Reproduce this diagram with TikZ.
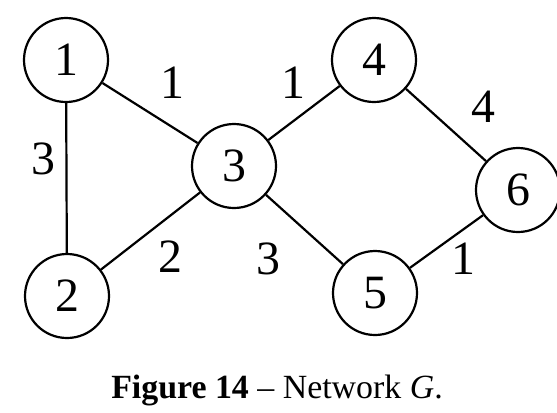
\documentclass[tikz,border=0pt]{standalone}
\usepackage{fontspec}
\setmainfont{Liberation Serif}

\tikzset{
  vertex/.style={draw, circle, line width=2.2bp, minimum size=84bp, inner sep=0pt, font=\fontsize{48}{48}\selectfont},
  weight/.style={font=\fontsize{48}{48}\selectfont, inner sep=0pt},
  link/.style={line width=2.2bp}
}

\begin{document}
\begin{tikzpicture}[x=1bp, y=-1bp]
        \useasboundingbox (0,0) rectangle (557,412);
        \node[vertex] (V1) at (66,60) {1};
        \node[vertex] (V2) at (67,296) {2};
        \node[vertex] (V3) at (234,166) {3};
        \node[vertex] (V4) at (374,60) {4};
        \node[vertex] (V5) at (375,293) {5};
        \node[vertex] (V6) at (518,190) {6};
        \draw[link] (V1) -- (V3);
        \draw[link] (V1) -- (V2);
        \draw[link] (V2) -- (V3);
        \draw[link] (V3) -- (V4);
        \draw[link] (V3) -- (V5);
        \draw[link] (V4) -- (V6);
        \draw[link] (V5) -- (V6);
        % edge weights
        \node[weight] (W13) at (172,83) {1};
        \node[weight] (W12) at (43,159) {3};
        \node[weight] (W23) at (170,257) {2};
        \node[weight] (W34) at (293,83) {1};
        \node[weight] (W35) at (268,259) {3};
        \node[weight] (W46) at (483,107) {4};
        \node[weight] (W56) at (463,259) {1};
        \node[font=\fontsize{34}{34}\selectfont, anchor=base] (cap) at (277,398) {\textbf{Figure 14} -- Network \textit{G}.};
      \end{tikzpicture}
\end{document}
